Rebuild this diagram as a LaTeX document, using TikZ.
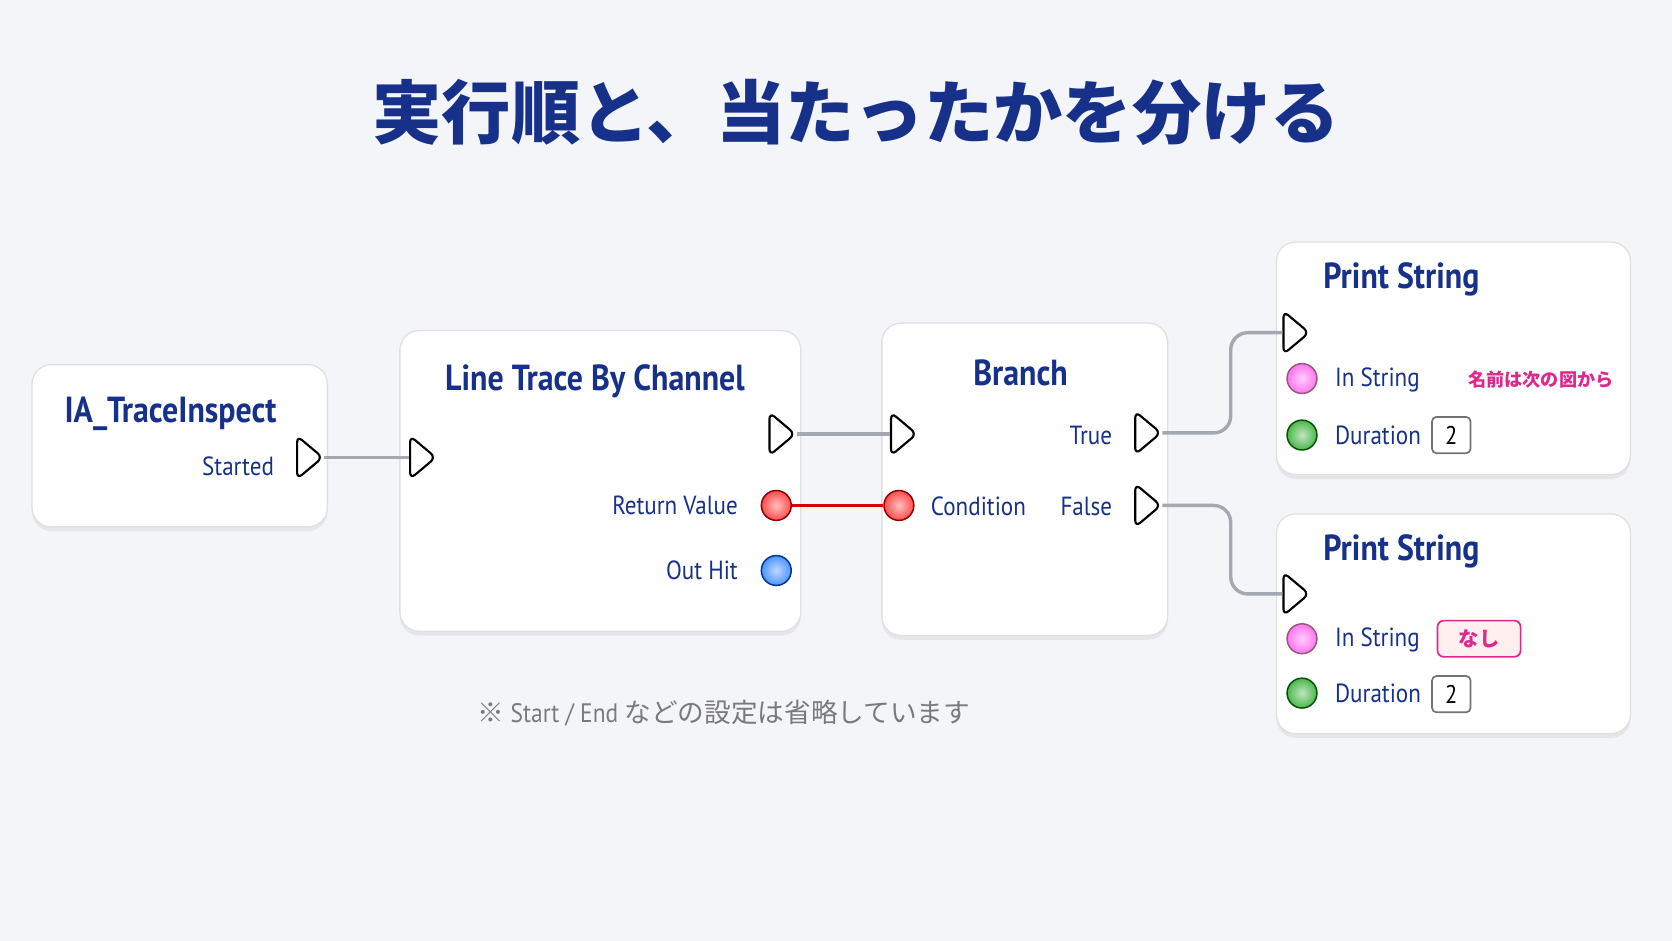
\documentclass[tikz,border=0pt]{standalone}
\usepackage{fontspec}
\setmainfont{PT Sans}[FakeStretch=0.88]
\newfontfamily\cjk{Noto Sans CJK JP}
\usetikzlibrary{shapes.geometric,shadows}
\definecolor{bg}{HTML}{F4F5F9}
\definecolor{ink}{HTML}{17318A}
\definecolor{wire}{HTML}{A4A8B0}
\definecolor{pinkc}{HTML}{E0288C}
\definecolor{notec}{HTML}{7A7A7A}
\begin{document}
\begin{tikzpicture}[x=0.5pt,y=-0.5pt,
 box/.style={draw=black!12,fill=white,rounded corners=9pt,line width=0.6pt,drop shadow={opacity=0.12,shadow xshift=0pt,shadow yshift=-2pt}},
 ttl/.style={text=ink,font=\bfseries\fontsize{17}{18}\selectfont},
 lbl/.style={text=ink,font=\fontsize{12.3}{13}\selectfont},
 exec/.style={isosceles triangle,isosceles triangle apex angle=80,draw=black,fill=white,line width=1pt,rounded corners=3pt,minimum height=12pt,minimum width=14pt,inner sep=0pt},
 dpin/.style={circle,draw=#1!55!black,line width=0.7pt,minimum size=14pt,inner sep=0pt,inner color=#1!25!white,outer color=#1!70!white},
 wr/.style={draw=wire,line width=1.6pt,rounded corners=8pt},
 valbox/.style={draw=black!55,fill=white,rounded corners=2pt,line width=0.8pt,minimum width=18pt,minimum height=17pt,inner sep=0pt,font=\fontsize{12}{13}\selectfont}]
\fill[bg] (0,0) rectangle (1568,882);
\useasboundingbox (0,0) rectangle (1568,882);
\node[text=ink,font=\cjk\bfseries\fontsize{32.5}{35}\selectfont] (title) at (803,105) {実行順と、当たったかを分ける};
% boxes
\draw[box] (30,342) rectangle (307,494);
\draw[box] (375,310) rectangle (751,592);
\draw[box] (827,303) rectangle (1095,596);
\draw[box] (1197,227) rectangle (1529,445);
\draw[box] (1197,482) rectangle (1529,688);
% node 1
\node[ttl] (t1) at (160,388) {IA\_TraceInspect};
\node[lbl,anchor=east] (l1) at (264,437) {Started};
\node[exec] (e1) at (288,429) {};
% node 2
\node[ttl] (t2) at (558,358) {Line Trace By Channel};
\node[exec] (e2in) at (394,429) {};
\node[exec] (e2out) at (731,407) {};
\node[lbl,anchor=east] (l2a) at (699,474) {Return Value};
\node[dpin=red] (rv) at (728,474) {};
\node[lbl,anchor=east] (l2b) at (699,535) {Out Hit};
\node[dpin=blue!60!cyan] (oh) at (728,535) {};
% node 3
\node[ttl] (t3) at (957,350) {Branch};
\node[exec] (e3in) at (845,407) {};
\node[dpin=red] (cond) at (843,474) {};
\node[lbl,anchor=west] (l3a) at (866,475) {Condition};
\node[lbl,anchor=east] (l3b) at (1050,408) {True};
\node[exec] (tr) at (1074,406) {};
\node[lbl,anchor=east] (l3c) at (1050,475) {False};
\node[exec] (fa) at (1074,474) {};
% PS1
\node[ttl,anchor=west] (t4) at (1234,262) {Print String};
\node[exec] (e4) at (1213,312) {};
\node[dpin=magenta!70!pink] (s4) at (1221,355) {};
\node[lbl,anchor=west] (l4a) at (1245,356) {In String};
\node[anchor=west,text=pinkc,font=\cjk\bfseries\fontsize{8.5}{10}\selectfont] (n4) at (1370,356) {名前は次の図から};
\node[dpin=green!60!black] (d4) at (1221,408) {};
\node[lbl,anchor=west] (l4b) at (1245,408) {Duration};
\node[valbox] (v4) at (1361,408) {2};
% PS2
\node[ttl,anchor=west] (t5) at (1234,517) {Print String};
\node[exec] (e5) at (1213,557) {};
\node[dpin=magenta!70!pink] (s5) at (1221,599) {};
\node[lbl,anchor=west] (l5a) at (1245,600) {In String};
\node[draw=pinkc,fill=pink!25,rounded corners=3pt,line width=0.8pt,minimum width=39pt,minimum height=17pt,inner sep=0pt,text=pinkc,font=\cjk\bfseries\fontsize{9.5}{11}\selectfont] (nn) at (1387,599) {なし};
\node[dpin=green!60!black] (d5) at (1221,650) {};
\node[lbl,anchor=west] (l5b) at (1245,650) {Duration};
\node[valbox] (v5) at (1361,651) {2};
% note
\node[text=notec,font=\fontsize{12.5}{13}\selectfont] (note) at (679,669) {{\cjk ※} Start / End {\cjk などの設定は省略しています}};
% wires
\draw[wr] (e1.apex) -- (e2in.west);
\draw[wr] (e2out.apex) -- (e3in.west);
\draw[draw=red!85!black,line width=1.8pt] (rv.east) -- (cond.west);
\draw[wr] (tr.apex) -- ++(64,0) |- (e4.west);
\draw[wr] (fa.apex) -- ++(64,0) |- (e5.west);
\end{tikzpicture}
\end{document}
